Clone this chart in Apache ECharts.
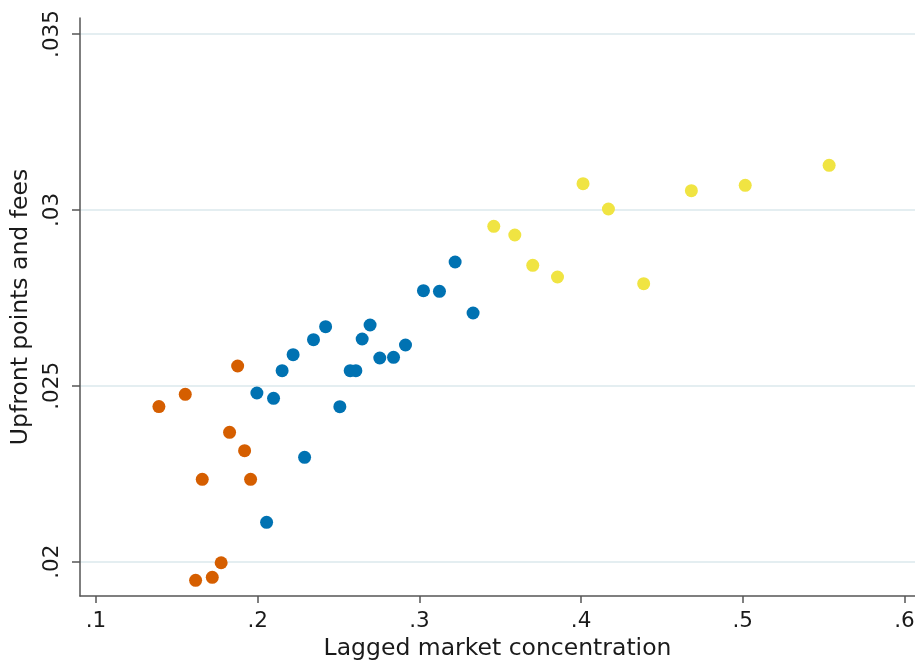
<!DOCTYPE html>
<html>
<head>
<meta charset="utf-8">
<script src="https://cdn.jsdelivr.net/npm/echarts@6/dist/echarts.min.js"></script>
<style>
  html, body { margin: 0; padding: 0; background: #fff; }
  #chart { width: 915px; height: 660px; }
</style>
</head>
<body>
<div id="chart"></div>
<script>
// Low-concentration group (orange)
const lowX = [0.1389, 0.1552, 0.1876, 0.1826, 0.1919, 0.1657, 0.1956, 0.1774, 0.1719, 0.1616];
const lowY = [0.02441, 0.024758, 0.025563, 0.023678, 0.023155, 0.022342, 0.022342, 0.01997, 0.019557, 0.019471];

// Mid-concentration group (blue)
const midX = [0.1995, 0.2098, 0.2151, 0.2219, 0.2345, 0.2420, 0.2508, 0.2572, 0.2607, 0.2646,
              0.2695, 0.2755, 0.2840, 0.2914, 0.3025, 0.3124, 0.3221, 0.3332, 0.2055, 0.2290];
const midY = [0.024795, 0.024645, 0.025429, 0.025884, 0.026310, 0.026680, 0.024406, 0.025429, 0.025429, 0.026330,
              0.026728, 0.025790, 0.025810, 0.026160, 0.027703, 0.027686, 0.028519, 0.027069, 0.021120, 0.022968];

// High-concentration group (yellow)
const highX = [0.3460, 0.3590, 0.3701, 0.3854, 0.4012, 0.4169, 0.4387, 0.4682, 0.5015, 0.5534];
const highY = [0.029534, 0.029287, 0.028425, 0.028093, 0.030745, 0.030026, 0.027902, 0.030546, 0.030699, 0.031268];

// Axis ticks and their labels
const xTicks = [0.1, 0.2, 0.3, 0.4, 0.5, 0.6];
const xTickLabels = ['.1', '.2', '.3', '.4', '.5', '.6'];
const yTicks = [0.02, 0.025, 0.03, 0.035];
const yTickLabels = ['.02', '.025', '.03', '.035'];

function pairs(xs, ys) {
  return xs.map((x, i) => [x, ys[i]]);
}
function labelFor(ticks, labels) {
  return function (v) {
    for (let i = 0; i < ticks.length; i++) {
      if (Math.abs(ticks[i] - v) < 1e-9) return labels[i];
    }
    return '';
  };
}

const FONT = 'DejaVu Sans';
const AXIS_COLOR = '#555555';
const TEXT_COLOR = '#1a1a1a';

const chart = echarts.init(document.getElementById('chart'), null, { renderer: 'canvas' });

chart.setOption({
  animation: false,
  backgroundColor: '#ffffff',
  grid: { left: 80, right: 0, top: 18, bottom: 64, containLabel: false, outerBoundsMode: 'none' },
  xAxis: {
    type: 'value',
    min: 0.0901,
    max: 0.6065,
    name: 'Lagged market concentration',
    nameLocation: 'middle',
    nameGap: 35,
    nameTextStyle: { fontFamily: FONT, fontSize: 23.5, color: TEXT_COLOR },
    axisLine: { show: true, onZero: false, lineStyle: { color: AXIS_COLOR, width: 1.5 } },
    axisTick: { show: true, length: 7, customValues: xTicks, lineStyle: { color: AXIS_COLOR, width: 1.5 } },
    axisLabel: {
      customValues: xTicks,
      formatter: labelFor(xTicks, xTickLabels),
      margin: 14,
      fontFamily: FONT, fontSize: 21.5, color: TEXT_COLOR
    },
    splitLine: { show: false }
  },
  yAxis: {
    type: 'value',
    min: 0.019025,
    max: 0.035455,
    name: 'Upfront points and fees',
    nameLocation: 'middle',
    nameGap: 41,
    nameRotate: 90,
    nameTextStyle: { fontFamily: FONT, fontSize: 23.5, color: TEXT_COLOR },
    axisLine: { show: true, onZero: false, lineStyle: { color: AXIS_COLOR, width: 1.5 } },
    axisTick: { show: true, length: 8, customValues: yTicks, lineStyle: { color: AXIS_COLOR, width: 1.5 } },
    axisLabel: {
      customValues: yTicks,
      formatter: labelFor(yTicks, yTickLabels),
      rotate: 90,
      margin: 17,
      fontFamily: FONT, fontSize: 21.5, color: TEXT_COLOR
    },
    splitLine: { show: true, customValues: yTicks, lineStyle: { color: '#e4eef1', width: 2 } }
  },
  series: [
    {
      type: 'scatter', data: pairs(midX, midY), symbol: 'circle', symbolSize: 13,
      itemStyle: { color: '#0072B2', opacity: 1 }
    },
    {
      type: 'scatter', data: pairs(lowX, lowY), symbol: 'circle', symbolSize: 13,
      itemStyle: { color: '#D55E00', opacity: 1 }
    },
    {
      type: 'scatter', data: pairs(highX, highY), symbol: 'circle', symbolSize: 13,
      itemStyle: { color: '#F0E442', opacity: 1 }
    }
  ]
});
</script>
</body>
</html>
